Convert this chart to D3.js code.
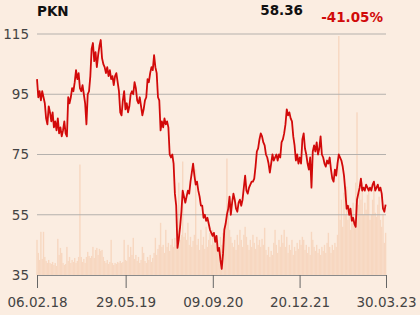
<!DOCTYPE html>
<html>
<head>
<meta charset="utf-8">
<script src="https://cdn.jsdelivr.net/npm/d3@7"></script>
<style>
  body { margin: 0; background: #fbede1; }
  svg { display: block; font-family: "DejaVu Sans", sans-serif; }
</style>
</head>
<body>
<div class="chart"></div>
<script>
var svgWidth = 420;
var svgHeight = 315;

var margin = {top: 34, right: 34, bottom: 40, left: 37};
var width = svgWidth - margin.left - margin.right;
var height = svgHeight - margin.top - margin.bottom;

// weekly closing prices, first week 06.02.18
var prices = [
  100, 94, 96, 93, 96, 94, 92, 87, 85, 91, 89, 86, 89, 84, 86, 83, 87, 82, 84, 81,
  83, 86, 82, 81, 94, 92, 94, 97, 96, 99, 103, 100, 102, 97, 96, 98, 95, 92, 85, 95,
  96, 101, 110, 112, 106, 109, 104, 108, 111, 113, 107, 105, 104, 102, 104, 101, 103, 100, 101, 98,
  101, 102, 99, 96, 89, 88, 93, 96, 90, 92, 89, 91, 95, 96, 95, 99, 97, 93, 92, 94,
  91, 88, 90, 93, 94, 100, 99, 102, 104, 103, 108, 104, 102, 94, 93, 83, 86, 84, 87, 85,
  86, 84, 75, 74, 75, 72, 62, 58, 44, 47, 51, 56, 63, 61, 59, 61, 63, 62, 66, 69,
  72, 68, 65, 66, 63, 61, 58, 58, 54, 55, 53, 54, 52, 50, 49, 48, 49, 46, 48, 43,
  44, 40, 37, 42, 50, 52, 55, 57, 61, 55, 59, 62, 60, 57, 56, 59, 60, 58, 60, 64,
  68, 63, 62, 64, 65, 66, 66, 67, 71, 76, 77, 80, 82, 81, 79, 78, 75, 74, 72, 69,
  72, 75, 73, 74, 75, 73, 75, 74, 79, 80, 82, 85, 90, 88, 89, 87, 86, 81, 78, 73,
  75, 72, 74, 72, 80, 82, 77, 75, 72, 70, 74, 64, 76, 78, 76, 79, 75, 77, 81, 75,
  74, 72, 71, 73, 72, 74, 70, 67, 66, 70, 68, 72, 75, 74, 73, 71, 68, 63, 57, 58,
  55, 57, 53, 54, 52, 51, 60, 62, 64, 67, 63, 64, 63, 65, 64, 63, 64, 63, 65, 66,
  63, 64, 65, 63, 64, 62, 57, 56, 58.36
];

// weekly turnover (millions of shares)
var volumes = [
  3.5, 2.2, 1.5, 4.3, 1.6, 4.3, 1.8, 1.4, 1.2, 1.5, 1.2, 1.1, 1.3, 1.0, 1.2, 0.9, 3.6, 2.0, 2.7, 2.2,
  1.2, 1.0, 1.1, 2.8, 1.4, 1.8, 1.2, 1.5, 1.3, 1.7, 1.2, 1.4, 1.8, 11.0, 1.8, 1.3, 1.6, 1.2, 1.8, 2.3,
  1.9, 1.7, 1.9, 2.8, 1.7, 2.5, 2.7, 2.0, 2.6, 2.4, 2.5, 1.8, 1.4, 1.2, 1.5, 1.1, 1.3, 3.5, 1.2, 1.0,
  1.2, 1.1, 1.3, 1.2, 1.4, 1.2, 1.3, 3.5, 1.5, 1.4, 3.0, 1.8, 2.8, 2.0, 3.7, 1.6, 2.0, 1.4, 1.8, 1.2,
  1.5, 2.8, 2.2, 1.4, 1.2, 1.8, 1.5, 2.0, 1.3, 1.7, 2.2, 3.7, 2.0, 2.6, 3.0, 5.2, 2.8, 3.0, 2.2, 4.5,
  2.8, 3.2, 2.4, 3.0, 3.6, 2.8, 3.7, 3.0, 4.0, 9.2, 3.5, 4.0, 11.3, 3.8, 4.2, 3.5, 5.2, 3.0, 3.8, 2.8,
  3.4, 4.0, 10.5, 3.0, 3.6, 2.5, 4.5, 3.0, 3.8, 2.6, 4.8, 2.8, 3.5, 4.2, 3.0, 4.5, 3.2, 4.0, 2.8, 3.5,
  2.5, 3.8, 3.0, 4.2, 3.5, 4.8, 11.6, 6.0, 4.5, 3.8, 3.2, 2.8, 3.5, 2.5, 4.0, 3.0, 4.5, 3.5, 2.8, 4.0,
  4.8, 3.8, 3.0, 2.5, 3.5, 2.8, 4.0, 3.2, 2.6, 3.8, 3.0, 3.5, 2.8, 3.6, 3.0, 4.7, 2.5, 2.0, 2.8, 1.8,
  2.4, 2.0, 3.2, 4.5, 3.0, 2.2, 3.5, 2.8, 4.0, 3.2, 4.5, 2.8, 3.8, 2.2, 3.0, 2.5, 3.5, 2.0, 2.8, 2.4,
  3.2, 2.6, 3.5, 3.0, 3.8, 3.5, 2.5, 3.0, 2.2, 2.8, 2.0, 4.3, 3.5, 2.8, 2.4, 3.0, 2.2, 2.6, 2.0, 2.8,
  2.4, 3.0, 2.2, 3.2, 4.2, 2.8, 2.2, 3.0, 2.5, 3.2, 2.8, 4.0, 23.8, 5.5, 7.5, 4.8, 8.2, 6.0, 8.8, 5.5,
  7.0, 4.5, 6.5, 7.2, 5.0, 9.2, 16.2, 7.0, 8.2, 7.5, 9.2, 6.0, 7.2, 6.5, 8.0, 8.8, 5.5, 6.0, 7.5, 8.5,
  6.2, 5.8, 7.0, 7.8, 5.5, 4.8, 6.0, 3.2, 4.2
];

var yTicks = [35, 55, 75, 95, 115];
var xTickLabels = ["06.02.18", "29.05.19", "09.09.20", "20.12.21", "30.03.23"];

var parseDate = d3.timeParse("%d.%m.%y");
var startDate = parseDate(xTickLabels[0]);
var endDate = parseDate(xTickLabels[xTickLabels.length - 1]);

var data = prices.map(function(p, i) {
  return {date: d3.timeDay.offset(startDate, i * 7), price: p, volume: volumes[i]};
});

var svg = d3.select(".chart")
  .append("svg")
  .attr("width", svgWidth)
  .attr("height", svgHeight);

svg.append("rect")
  .attr("width", svgWidth)
  .attr("height", svgHeight)
  .attr("fill", "#fbede1");

var chartGroup = svg.append("g").attr("transform", `translate(${margin.left}, ${margin.top})`);

var xScale = d3.scaleTime()
  .domain([startDate, endDate])
  .range([0, width]);

var yScale = d3.scaleLinear()
  .domain([35, 115])
  .range([height, 0]);

var volScale = d3.scaleLinear()
  .domain([0, 24])
  .range([height, 0]);

// volume bars
chartGroup.selectAll(".vol")
  .data(data)
  .enter()
  .append("rect")
  .attr("class", "vol")
  .attr("x", d => xScale(d.date) - 0.7)
  .attr("y", d => volScale(d.volume))
  .attr("width", 1.4)
  .attr("height", d => height - volScale(d.volume))
  .attr("fill", "#f7d7c0");

// grid
chartGroup.selectAll(".grid")
  .data(yTicks.slice(1))
  .enter()
  .append("line")
  .attr("class", "grid")
  .attr("x1", 0)
  .attr("x2", width)
  .attr("y1", d => yScale(d))
  .attr("y2", d => yScale(d))
  .attr("stroke", "#b5b1ad")
  .attr("stroke-width", 1);

// left labels
var leftAxis = d3.axisLeft(yScale).tickValues(yTicks).tickSize(0).tickPadding(8);
var yAxisG = chartGroup.append("g").call(leftAxis);
yAxisG.select(".domain").remove();
yAxisG.selectAll("text")
  .attr("font-size", "13.5px")
  .attr("font-family", "DejaVu Sans, sans-serif")
  .attr("fill", "#444");

// bottom axis
var bottomAxis = d3.axisBottom(xScale)
  .tickValues(xTickLabels.map(parseDate))
  .tickFormat(d3.timeFormat("%d.%m.%y"))
  .tickSize(13)
  .tickPadding(9)
  .tickSizeOuter(0);
var xAxisG = chartGroup.append("g").attr("transform", `translate(0, ${height})`).call(bottomAxis);
xAxisG.select(".domain").attr("stroke", "#8a8a8a");
xAxisG.selectAll(".tick line").attr("stroke", "#666");
xAxisG.selectAll("text")
  .attr("font-size", "13.5px")
  .attr("font-family", "DejaVu Sans, sans-serif")
  .attr("fill", "#444");

// price line
var line = d3.line()
  .x(d => xScale(d.date))
  .y(d => yScale(d.price));

chartGroup.append("path")
  .datum(data)
  .attr("d", line)
  .attr("fill", "none")
  .attr("stroke", "#d20a0a")
  .attr("stroke-width", 1.8)
  .attr("stroke-linejoin", "round");

// header
var last = prices[prices.length - 1];

svg.append("text")
  .attr("x", 37)
  .attr("y", 15.5)
  .attr("font-size", "13.5px")
  .attr("font-weight", "bold")
  .attr("fill", "#111")
  .text("PKN");

svg.append("text")
  .attr("x", 303)
  .attr("y", 14.5)
  .attr("text-anchor", "end")
  .attr("font-size", "13.5px")
  .attr("font-weight", "bold")
  .attr("fill", "#111")
  .text(last.toFixed(2));

svg.append("text")
  .attr("x", 383)
  .attr("y", 21.5)
  .attr("text-anchor", "end")
  .attr("font-size", "13.5px")
  .attr("font-weight", "bold")
  .attr("fill", "#d10a0a")
  .text("-41.05%");
</script>
</body>
</html>
